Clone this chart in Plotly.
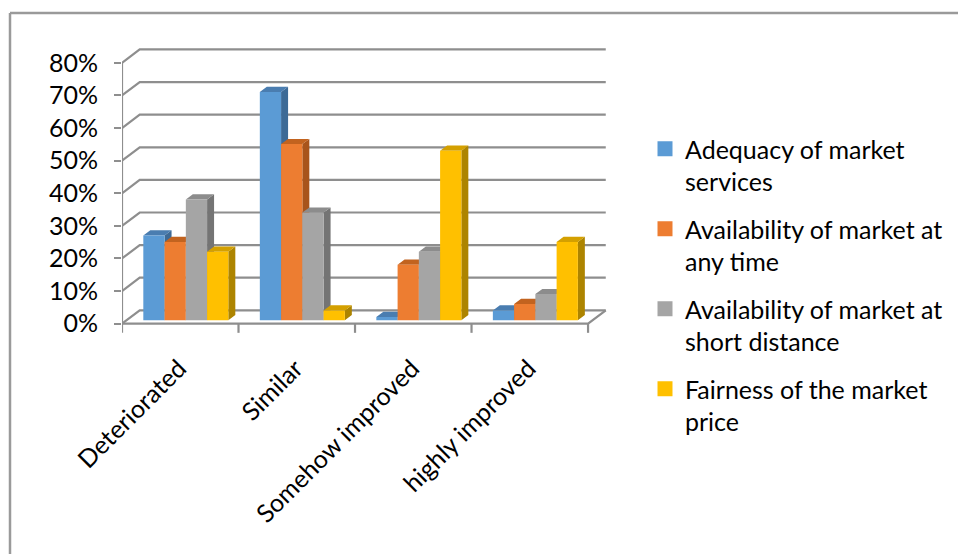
import plotly.graph_objects as go

# ---------------- data ----------------
categories = ["Deteriorated", "Similar", "Somehow improved", "highly improved"]
series_names = [
    "Adequacy of market<br>services",
    "Availability of market at<br>any time",
    "Availability of market at<br>short distance",
    "Fairness of the market<br>price",
]
adequacy = [26, 70, 1, 3]
avail_time = [24, 54, 17, 5]
avail_dist = [37, 33, 21, 8]
fairness = [21, 3, 52, 24]
series_values = [adequacy, avail_time, avail_dist, fairness]
y_ticks = [0, 10, 20, 30, 40, 50, 60, 70, 80]
y_tick_labels = ["0%", "10%", "20%", "30%", "40%", "50%", "60%", "70%", "80%"]

# ---------------- style ----------------
front_cols = ["#5B9BD5", "#ED7D31", "#A5A5A5", "#FFC000"]
top_cols = ["#4A7DB0", "#C2631F", "#8C8C8C", "#D4A000"]
side_cols = ["#3D6A96", "#A8541B", "#747474", "#AD8400"]
grid_col = "#8E8E8E"
FONT = "Lato"
FS = 25

# pseudo-3D geometry (in data units)
DX, DY = 0.152, 4.1          # wall depth offset
BAR_W = 0.1824
BAR_LEFT = 0.183
BASE = 1.07
DDX, DDY = 0.06, 1.6         # bar depth offset
n_cat = len(categories)

fig = go.Figure()

def line(xs, ys):
    fig.add_trace(go.Scatter(x=xs, y=ys, mode="lines",
                             line=dict(color=grid_col, width=2.2),
                             hoverinfo="skip", showlegend=False, cliponaxis=False))

# gridlines on back wall + left wall diagonals
for v in y_ticks:
    line([0, DX, n_cat + DX], [v, v + DY, v + DY])
# floor front + right edge
line([0, n_cat, n_cat + DX], [0, 0, DY])
# front vertical axis
line([0, 0], [0, y_ticks[-1]])
# category tick marks
for i in range(n_cat + 1):
    line([i, i], [0, -2.8])

# bars (painter's order: left to right)
for j, vals in enumerate(series_values):
    fx, fy, tx, ty, sx, sy = [], [], [], [], [], []
    for i, v in enumerate(vals):
        x0 = i + BAR_LEFT + j * BAR_W
        x1 = x0 + BAR_W
        b = BASE
        t = BASE + v
        fx += [x0, x1, x1, x0, x0, None]
        fy += [b, b, t, t, b, None]
        tx += [x0, x1, x1 + DDX, x0 + DDX, x0, None]
        ty += [t, t, t + DDY, t + DDY, t, None]
        sx += [x1, x1, x1 + DDX, x1 + DDX, x1, None]
        sy += [b, t, t + DDY, b + DDY, b, None]
    for xs, ys, c in ((sx, sy, side_cols[j]), (tx, ty, top_cols[j]), (fx, fy, front_cols[j])):
        fig.add_trace(go.Scatter(x=xs, y=ys, mode="lines", fill="toself",
                                 fillcolor=c, line=dict(width=0, color=c),
                                 hoverinfo="skip", showlegend=False))

# legend entries
for j, name in enumerate(series_names):
    fig.add_trace(go.Scatter(x=[None], y=[None], mode="markers", name=name,
                             legendgroup=f"g{j}",
                             marker=dict(symbol="square", size=15, color=front_cols[j])))

# ---------------- layout ----------------
W, H = 958, 554
L, R, T, B = 122, 335, 40, 214
pw, ph = W - L - R, H - T - B

def px2paper_x(px):
    return (px - L) / pw

def py2paper_y(py):
    return (H - B - py) / ph

fig.update_layout(
    width=W, height=H,
    margin=dict(l=L, r=R, t=T, b=B, autoexpand=False),
    paper_bgcolor="white", plot_bgcolor="white",
    font=dict(family=FONT, size=FS, color="black"),
    xaxis=dict(range=[0, 4.3], showgrid=False, zeroline=False, showline=False,
               tickmode="array", tickvals=[i + 0.49 for i in range(n_cat)],
               ticktext=categories, tickangle=-45, ticks="",
               ticklabelstandoff=8, fixedrange=True),
    yaxis=dict(range=[-5, 87], showgrid=False, zeroline=False, showline=False,
               tickmode="array", tickvals=y_ticks, ticktext=y_tick_labels,
               ticks="outside", ticklen=7, tickwidth=2, tickcolor=grid_col,
               ticklabelstandoff=11, fixedrange=True),
    legend=dict(x=px2paper_x(645), y=py2paper_y(126), xanchor="left", yanchor="top",
                traceorder="grouped", tracegroupgap=12, valign="top",
                maxheight=450,
                font=dict(family=FONT, size=FS, color="black"),
                bgcolor="rgba(0,0,0,0)"),
    shapes=[
        dict(type="line", xref="paper", yref="paper",
             x0=px2paper_x(10), x1=px2paper_x(10), y0=py2paper_y(13), y1=py2paper_y(560),
             line=dict(color="#9A9A9A", width=2.5)),
        dict(type="line", xref="paper", yref="paper",
             x0=px2paper_x(10), x1=px2paper_x(960), y0=py2paper_y(13), y1=py2paper_y(13),
             line=dict(color="#9A9A9A", width=2.5)),
    ],
)

fig.write_html("out.html")
